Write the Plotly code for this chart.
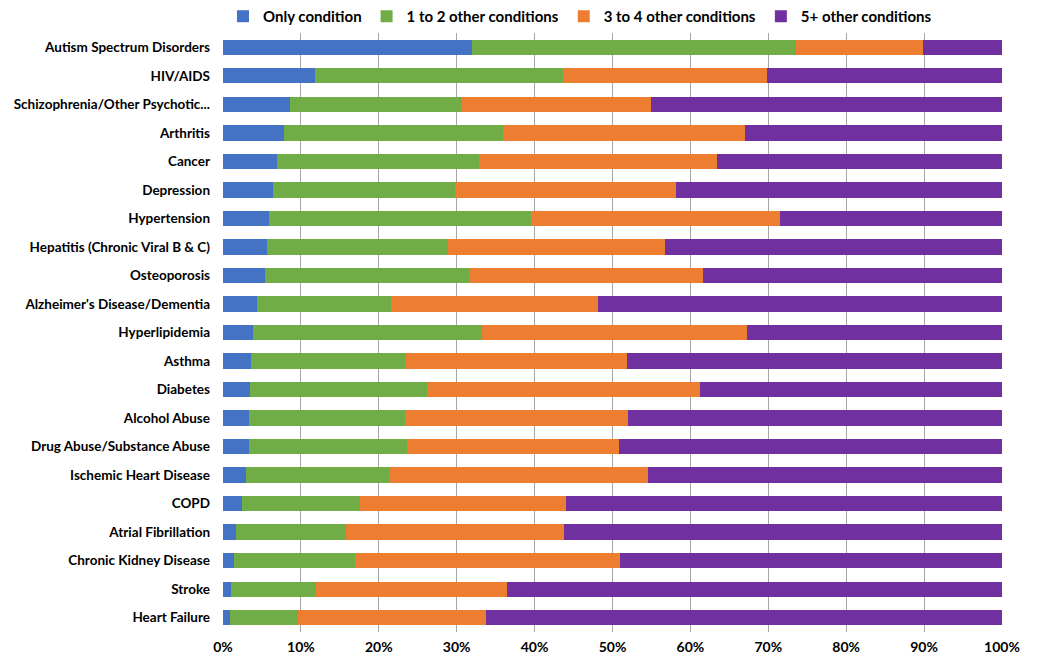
import plotly.graph_objects as go

# Categorias (de arriba hacia abajo)
condiciones = [
    "Autism Spectrum Disorders", "HIV/AIDS", "Schizophrenia/Other Psychotic...",
    "Arthritis", "Cancer", "Depression", "Hypertension",
    "Hepatitis (Chronic Viral B & C)", "Osteoporosis", "Alzheimer's Disease/Dementia",
    "Hyperlipidemia", "Asthma", "Diabetes", "Alcohol Abuse",
    "Drug Abuse/Substance Abuse", "Ischemic Heart Disease", "COPD",
    "Atrial Fibrillation", "Chronic Kidney Disease", "Stroke", "Heart Failure",
]

# Porcentajes por grupo
solo = [32.0, 11.8, 8.6, 7.8, 6.9, 6.4, 5.9, 5.7, 5.4, 4.3, 3.9,
        3.6, 3.5, 3.4, 3.3, 3.0, 2.4, 1.7, 1.4, 1.0, 0.9]
uno_dos = [41.6, 31.9, 22.1, 28.1, 25.9, 23.4, 33.7, 23.2, 26.3, 17.3, 29.4,
           19.9, 22.7, 19.9, 20.3, 18.5, 15.2, 14.1, 15.6, 10.9, 8.7]
tres_cuatro = [16.3, 26.1, 24.3, 31.1, 30.6, 28.4, 31.9, 27.9, 29.9, 26.6, 34.0,
               28.4, 35.0, 28.7, 27.2, 33.0, 26.4, 28.0, 34.0, 24.6, 24.1]
cinco_mas = [10.1, 30.2, 45.0, 33.0, 36.6, 41.8, 28.5, 43.2, 38.4, 51.8, 32.7,
             48.1, 38.8, 48.0, 49.2, 45.5, 56.0, 56.2, 49.0, 63.5, 66.3]

ticks_x = [0, 10, 20, 30, 40, 50, 60, 70, 80, 90, 100]
etiquetas_x = ["0%", "10%", "20%", "30%", "40%", "50%", "60%", "70%", "80%", "90%", "100%"]

series = [
    ("Only condition", solo, "#4472C4"),
    ("1 to 2 other conditions", uno_dos, "#70AD47"),
    ("3 to 4 other conditions", tres_cuatro, "#ED7D31"),
    ("5+ other conditions", cinco_mas, "#7030A0"),
]

fig = go.Figure()
for nombre, vals, color in series:
    fig.add_trace(go.Bar(y=condiciones, x=vals, name=nombre, orientation="h",
                         marker=dict(color=color, line=dict(width=0))))

# la pagina tiene 8px de margen en el body, se compensa aqui
fig.update_layout(
    template="none",
    barmode="stack",
    width=1050, height=662,
    margin=dict(l=215, r=56, t=25, b=38, autoexpand=False),
    plot_bgcolor="white", paper_bgcolor="white",
    font=dict(family="Lato", size=14, color="black"),
    bargap=0.46,
    legend=dict(orientation="h", x=0.0, xanchor="left", y=1.0, yanchor="bottom",
                font=dict(family="Lato", size=15, color="black", weight="bold"),
                traceorder="normal", itemwidth=30),
    xaxis=dict(range=[0, 100], tickmode="array", tickvals=ticks_x, ticktext=etiquetas_x,
               showgrid=True, gridcolor="#a6a6a6", gridwidth=1,
               zeroline=False, showline=False, automargin=False, ticks="",
               ticklabelstandoff=5,
               tickfont=dict(family="Lato", size=14, weight="bold")),
    yaxis=dict(autorange="reversed", showgrid=False, showline=False, automargin=False,
               ticks="", ticklabelstandoff=12,
               tickfont=dict(family="Lato", size=13.5, weight="bold")),
)

fig.write_html("out.html")
